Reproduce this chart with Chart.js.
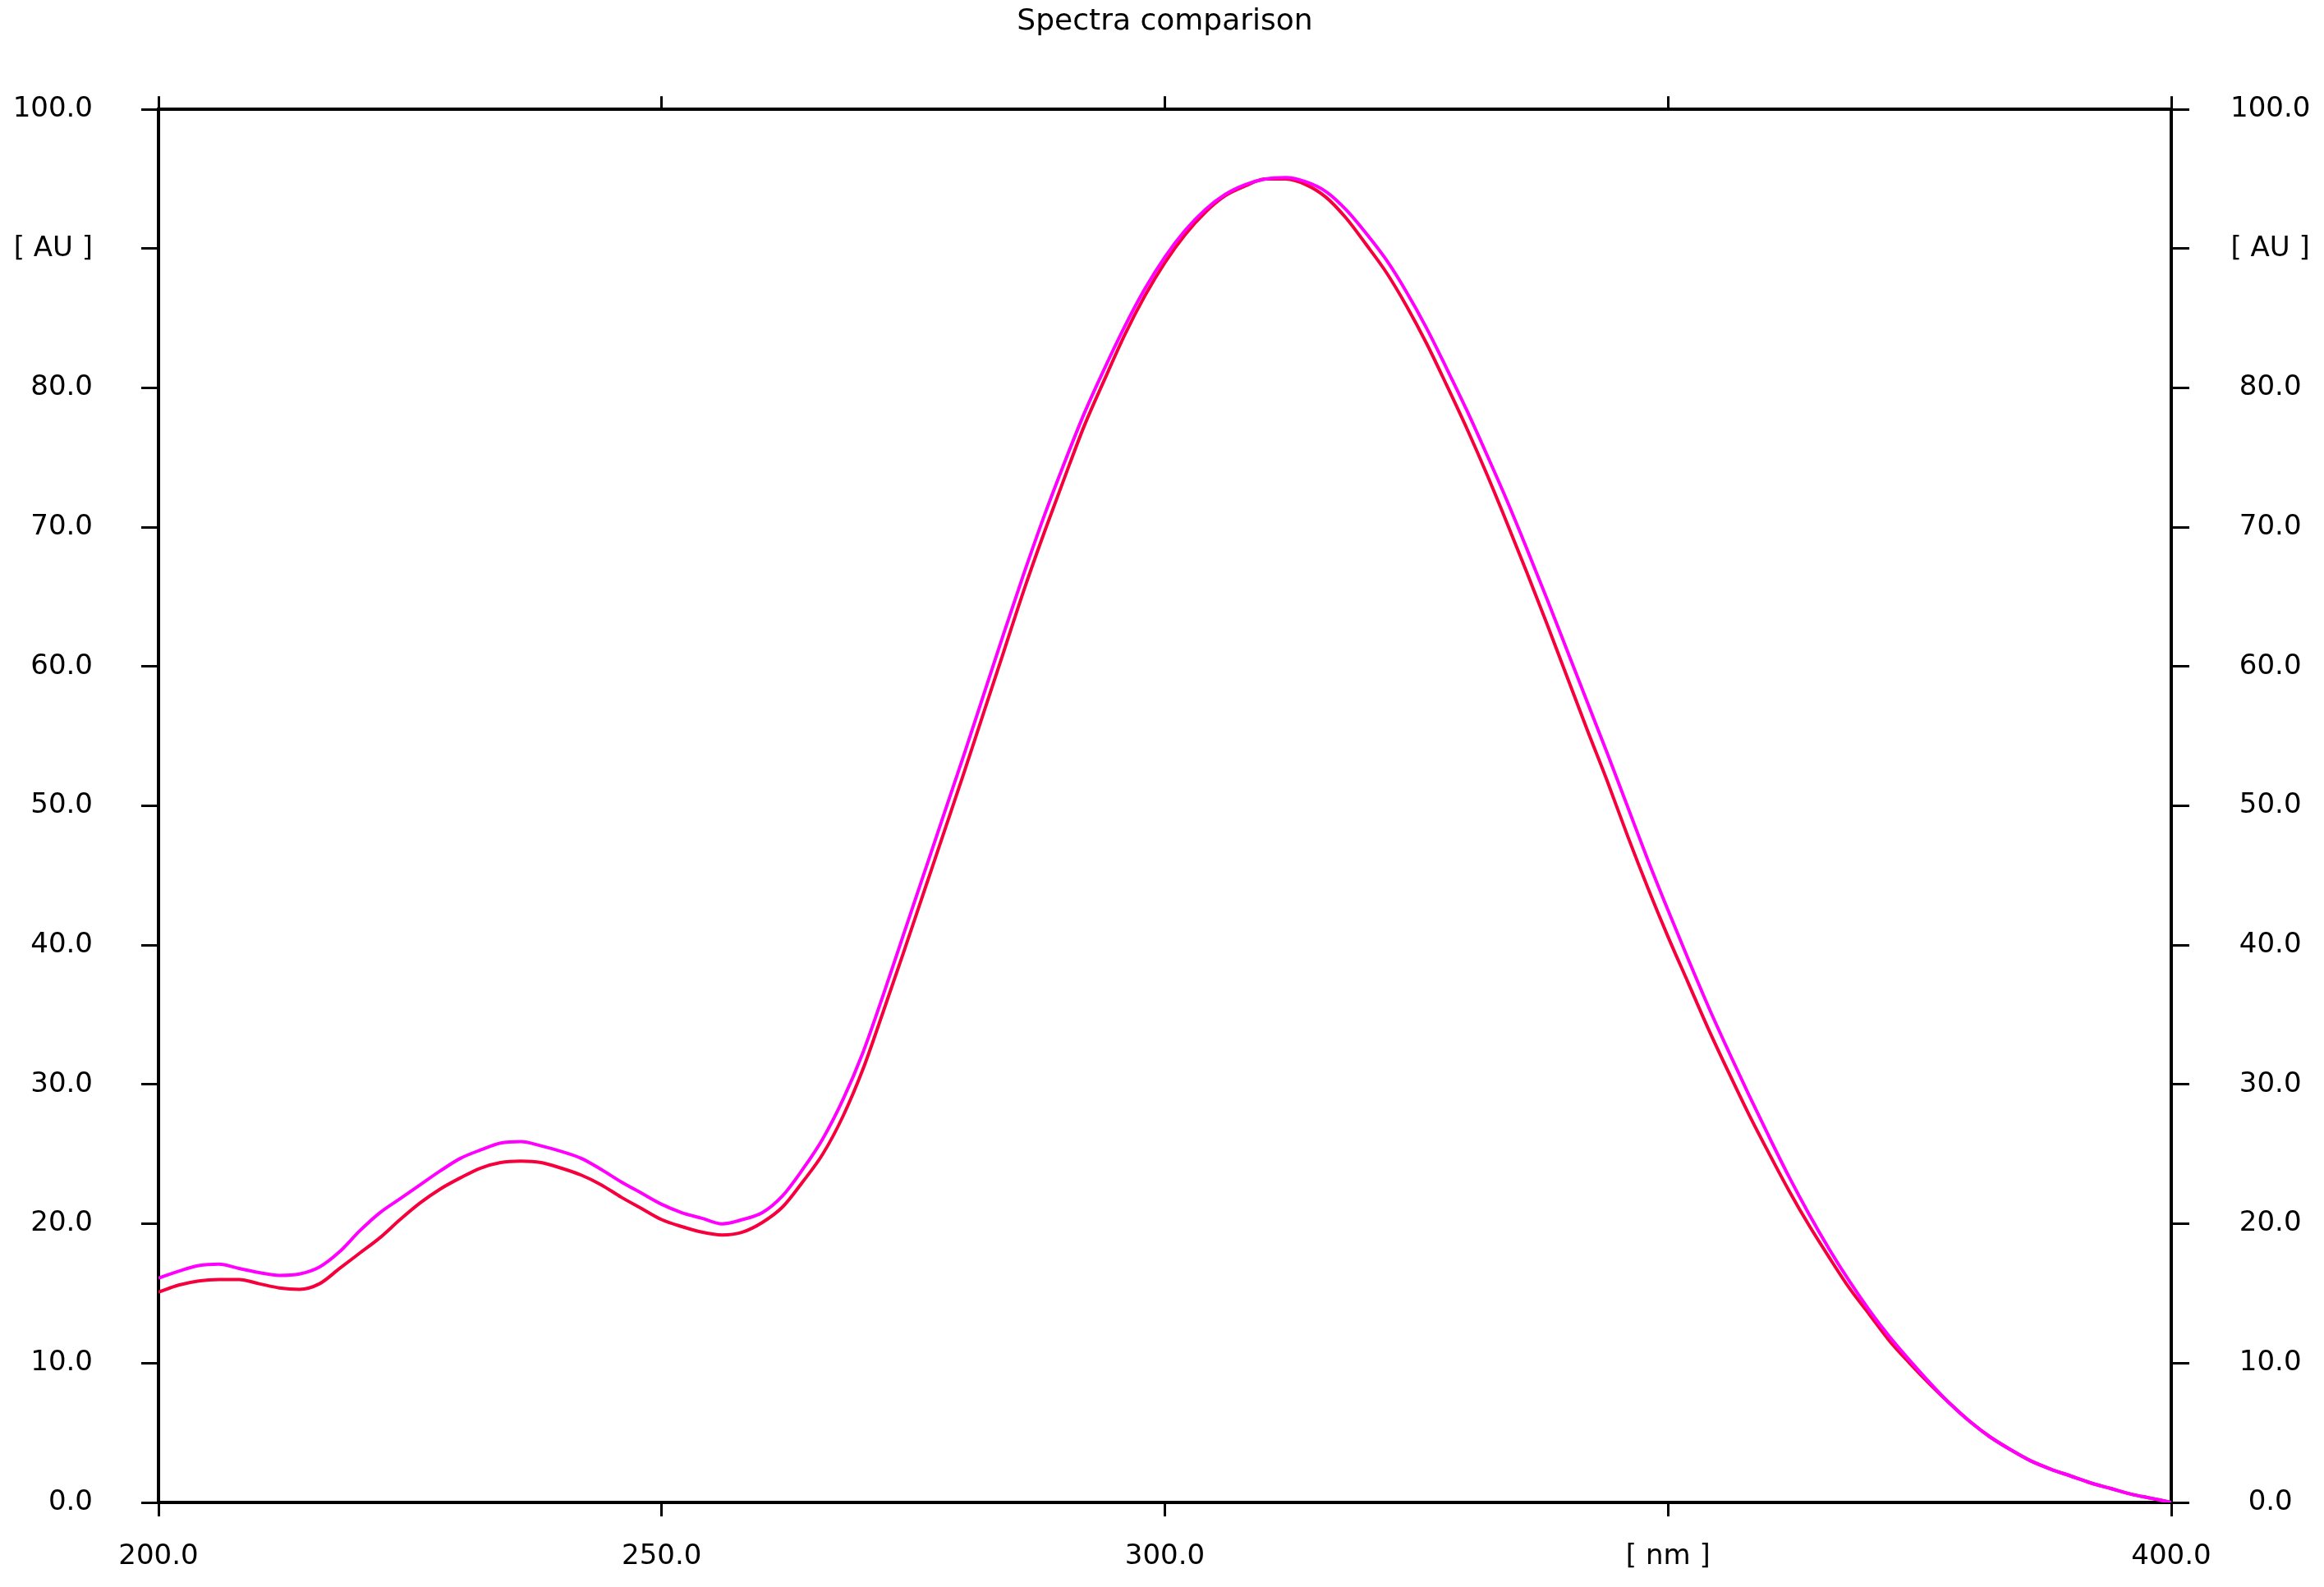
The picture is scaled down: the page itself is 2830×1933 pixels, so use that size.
<!DOCTYPE html>
<html>
<head>
<meta charset="utf-8">
<title>Spectra comparison</title>
<script src="https://cdn.jsdelivr.net/npm/chart.js@4"></script>
<style>
  html, body { margin: 0; padding: 0; background: #ffffff; }
  #wrap { width: 2830px; height: 1933px; }
</style>
</head>
<body>
<div id="wrap"><canvas id="spectra"></canvas></div>
<script>
// wavelengths in nm (every 2 nm)
const wavelengths = [
  200, 202, 204, 206, 208, 210, 212, 214, 216, 218,
  220, 222, 224, 226, 228, 230, 232, 234, 236, 238,
  240, 242, 244, 246, 248, 250, 252, 254, 256, 258,
  260, 262, 264, 266, 268, 270, 272, 274, 276, 278,
  280, 282, 284, 286, 288, 290, 292, 294, 296, 298,
  300, 302, 304, 306, 308, 310, 312, 314, 316, 318,
  320, 322, 324, 326, 328, 330, 332, 334, 336, 338,
  340, 342, 344, 346, 348, 350, 352, 354, 356, 358,
  360, 362, 364, 366, 368, 370, 372, 374, 376, 378,
  380, 382, 384, 386, 388, 390, 392, 394, 396, 398, 400
];

// magenta spectrum [AU]
const spectrumMagenta = [
  16.1, 16.6, 17.0, 17.1, 16.8, 16.5, 16.3, 16.4, 16.9, 18.0,
  19.5, 20.8, 21.8, 22.8, 23.8, 24.7, 25.3, 25.8, 25.9, 25.6,
  25.2, 24.7, 23.9, 23.0, 22.2, 21.4, 20.8, 20.4, 20.0, 20.3,
  20.8, 22.0, 23.9, 26.1, 28.9, 32.3, 36.4, 40.7, 45.0, 49.3,
  53.6, 58.0, 62.4, 66.7, 70.8, 74.6, 78.2, 81.4, 84.4, 87.1,
  89.4, 91.3, 92.8, 93.9, 94.6, 95.0, 95.1, 94.8, 94.1, 92.8,
  91.1, 89.2, 86.9, 84.3, 81.4, 78.4, 75.2, 71.9, 68.4, 64.8,
  61.1, 57.4, 53.7, 49.9, 46.1, 42.5, 39.0, 35.6, 32.4, 29.3,
  26.3, 23.4, 20.7, 18.2, 15.9, 13.8, 11.9, 10.2, 8.6, 7.1,
  5.8, 4.7, 3.8, 3.0, 2.4, 1.9, 1.4, 1.0, 0.6, 0.3, 0.0
];

// red spectrum [AU]
const spectrumRed = [
  15.1, 15.6, 15.9, 16.0, 16.0, 15.7, 15.4, 15.3, 15.7, 16.8,
  17.9, 19.0, 20.3, 21.5, 22.5, 23.3, 24.0, 24.4, 24.5, 24.4,
  24.0, 23.5, 22.8, 21.9, 21.1, 20.3, 19.8, 19.4, 19.2, 19.4,
  20.1, 21.2, 23.0, 25.0, 27.7, 31.1, 35.2, 39.4, 43.7, 48.0,
  52.3, 56.7, 61.1, 65.5, 69.6, 73.5, 77.3, 80.6, 83.8, 86.6,
  89.0, 91.0, 92.6, 93.8, 94.5, 95.0, 95.0, 94.6, 93.7, 92.2,
  90.3, 88.3, 85.9, 83.2, 80.2, 77.1, 73.8, 70.3, 66.7, 63.0,
  59.2, 55.4, 51.7, 47.8, 44.1, 40.6, 37.3, 34.0, 30.9, 27.9,
  25.1, 22.4, 19.9, 17.6, 15.4, 13.5, 11.6, 10.0, 8.5, 7.1,
  5.8, 4.7, 3.8, 3.0, 2.4, 1.9, 1.4, 1.0, 0.6, 0.3, 0.0
];

const xTickLabels = ['200.0', '250.0', '300.0', '[ nm ]', '400.0'];
const yTickLabels = ['0.0', '10.0', '20.0', '30.0', '40.0', '50.0', '60.0', '70.0', '80.0', '[ AU ]', '100.0'];

const toPoints = values => wavelengths.map((w, i) => ({ x: w, y: values[i] }));

const labelFont = { family: "'DejaVu Sans', sans-serif", size: 34 };

// shared look for the four frame axes
function frameAxis(extra) {
  return Object.assign({
    border: { display: true, color: '#000', width: 4 }
  }, extra);
}

new Chart(document.getElementById('spectra'), {
  type: 'line',
  data: {
    datasets: [
      {
        label: 'Spectrum 1',
        data: toPoints(spectrumMagenta),
        borderColor: '#ff00ff',
        borderWidth: 4,
        pointRadius: 0,
        cubicInterpolationMode: 'monotone',
        fill: false,
        order: 0
      },
      {
        label: 'Spectrum 2',
        data: toPoints(spectrumRed),
        borderColor: '#f5003c',
        borderWidth: 4,
        pointRadius: 0,
        cubicInterpolationMode: 'monotone',
        fill: false,
        order: 1
      }
    ]
  },
  options: {
    responsive: true,
    maintainAspectRatio: false,
    animation: false,
    layout: { padding: 0 },
    plugins: {
      legend: { display: false },
      tooltip: { enabled: false },
      title: {
        display: true,
        fullSize: false,
        text: 'Spectra comparison',
        color: '#000',
        font: { family: "'DejaVu Sans', sans-serif", size: 36, weight: 'normal' },
        padding: { top: 5, bottom: 0 }
      }
    },
    scales: {
      x: frameAxis({
        type: 'linear',
        position: 'bottom',
        min: 200,
        max: 400,
        afterFit: s => { s.height = 103; },
        grid: { drawOnChartArea: false, color: '#000', lineWidth: 3, tickLength: 17 },
        ticks: {
          stepSize: 50,
          autoSkip: false,
          maxRotation: 0,
          padding: 29,
          color: '#000',
          font: labelFont,
          callback: (v, i) => xTickLabels[i]
        }
      }),
      x2: frameAxis({
        type: 'linear',
        position: 'top',
        min: 200,
        max: 400,
        afterFit: s => { s.height = 85; },
        grid: { drawOnChartArea: false, color: '#000', lineWidth: 3, tickLength: 16 },
        ticks: { stepSize: 50, display: false }
      }),
      y: frameAxis({
        type: 'linear',
        position: 'left',
        min: 0,
        max: 100,
        afterFit: s => { s.width = 193; },
        grid: { drawOnChartArea: false, color: '#000', lineWidth: 3, tickLength: 21 },
        ticks: {
          stepSize: 10,
          autoSkip: false,
          padding: 59,
          color: '#000',
          font: labelFont,
          callback: (v, i) => yTickLabels[i]
        }
      }),
      y2: frameAxis({
        type: 'linear',
        position: 'right',
        min: 0,
        max: 100,
        afterFit: s => { s.width = 186; },
        grid: { drawOnChartArea: false, color: '#000', lineWidth: 3, tickLength: 22 },
        ticks: {
          stepSize: 10,
          autoSkip: false,
          padding: 50,
          crossAlign: 'center',
          color: '#000',
          font: labelFont,
          callback: (v, i) => yTickLabels[i]
        }
      })
    }
  }
});
</script>
</body>
</html>
